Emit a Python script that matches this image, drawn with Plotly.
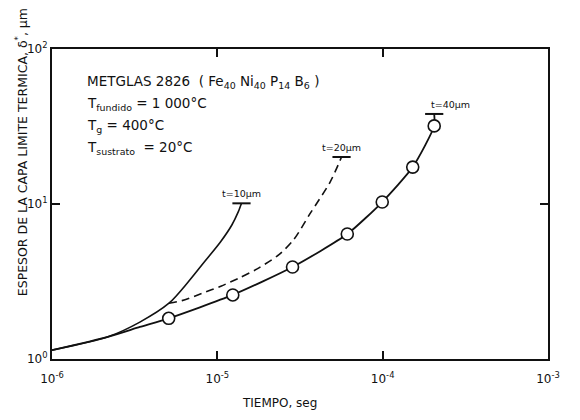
import math
import plotly.graph_objects as go

# --- data (log-log) ---
t10_x = [1e-6, 2.18e-6, 3.4e-6, 5.10e-6, 6.68e-6, 8.36e-6, 1.047e-5, 1.224e-5, 1.34e-5, 1.40e-5]
t10_y = [1.14, 1.39, 1.73, 2.29, 3.15, 4.24, 5.71, 7.32, 8.92, 10.1]

t20_x = [5.10e-6, 6.11e-6, 8.07e-6, 1.05e-5, 1.37e-5, 1.73e-5, 2.35e-5, 2.9e-5, 3.67e-5, 4.80e-5, 5.64e-5]
t20_y = [2.29, 2.38, 2.65, 2.95, 3.35, 3.80, 4.70, 5.9, 8.8, 13.8, 20.1]

t40_x = [1e-6, 2.18e-6, 3.4e-6, 5.08e-6, 1.24e-5, 2.85e-5, 6.11e-5, 9.94e-5, 1.52e-4, 2.05e-4, 2.05e-4]
t40_y = [1.14, 1.39, 1.61, 1.83, 2.59, 3.92, 6.40, 10.3, 17.3, 31.9, 38.1]

pts_x = [5.08e-6, 1.24e-5, 2.85e-5, 6.11e-5, 9.94e-5, 1.52e-4, 2.05e-4]
pts_y = [1.83, 2.59, 3.92, 6.40, 10.3, 17.3, 31.9]

end_labels = ["t=10µm", "t=20µm", "t=40µm"]
x_tickvals = [1e-6, 1e-5, 1e-4, 1e-3]
x_ticktext = ["10<sup>-6</sup>", "10<sup>-5</sup>", "10<sup>-4</sup>", "10<sup>-3</sup>"]
y_tickvals = [1, 10, 100]
y_ticktext = ["10<sup>0</sup>", "10<sup>1</sup>", "10<sup>2</sup>"]

FONT = "DejaVu Sans"
BLACK = "#111111"

fig = go.Figure()

fig.add_trace(go.Scatter(x=t10_x, y=t10_y, mode="lines",
                         line=dict(color=BLACK, width=1.6, shape="spline", smoothing=0.8),
                         showlegend=False, hoverinfo="skip"))
fig.add_trace(go.Scatter(x=t20_x, y=t20_y, mode="lines",
                         line=dict(color=BLACK, width=1.6, dash="8px,5px", shape="spline", smoothing=0.8),
                         showlegend=False, hoverinfo="skip"))
fig.add_trace(go.Scatter(x=t40_x, y=t40_y, mode="lines",
                         line=dict(color=BLACK, width=1.8, shape="spline", smoothing=0.6),
                         showlegend=False, hoverinfo="skip"))
fig.add_trace(go.Scatter(x=pts_x, y=pts_y, mode="markers",
                         marker=dict(symbol="circle", size=12, color="white",
                                     line=dict(color=BLACK, width=1.6)),
                         showlegend=False, hoverinfo="skip"))

# end caps (short horizontal bars) at the last point of each curve
ends_x = [t10_x[-1], t20_x[-1], t40_x[-1]]
ends_y = [t10_y[-1], t20_y[-1], t40_y[-1]]
fig.add_trace(go.Scatter(x=ends_x, y=ends_y, mode="markers",
                         marker=dict(symbol="line-ew-open", size=13, color=BLACK,
                                     line=dict(color=BLACK, width=2)),
                         showlegend=False, hoverinfo="skip"))

xshifts = [0, 0, 16]
for ex, ey, lab, xs in zip(ends_x, ends_y, end_labels, xshifts):
    fig.add_annotation(x=math.log10(ex), y=math.log10(ey), xref="x", yref="y",
                       text=lab, showarrow=False, xanchor="center", yanchor="bottom",
                       xshift=xs, yshift=2,
                       font=dict(family=FONT, size=9.5, color=BLACK))

info_lines = [
    "METGLAS 2826  ( Fe<sub>40</sub> Ni<sub>40</sub> P<sub>14</sub> B<sub>6</sub> )",
    "T<sub>fundido</sub> = 1 000°C",
    "T<sub>g</sub> = 400°C",
    "T<sub>sustrato</sub>  = 20°C",
]
info_y = [0.895, 0.822, 0.752, 0.682]
for txt, yy in zip(info_lines, info_y):
    fig.add_annotation(x=0.066, y=yy, xref="paper", yref="paper", text=txt,
                       showarrow=False, xanchor="left", yanchor="middle",
                       font=dict(family=FONT, size=13.5, color=BLACK))

fig.add_annotation(x=-0.062, y=0.668, xref="paper", yref="paper",
                   text="ESPESOR DE LA CAPA LIMITE TERMICA, δ<sup>*</sup>, µm",
                   textangle=-90, showarrow=False, xanchor="center", yanchor="middle",
                   font=dict(family=FONT, size=12.5, color=BLACK))
fig.add_annotation(x=0.459, y=0.0, xref="paper", yref="paper",
                   text="TIEMPO, seg", showarrow=False, xanchor="center", yanchor="bottom",
                   yshift=-53,
                   font=dict(family=FONT, size=12, color=BLACK))

axis_common = dict(showgrid=False, zeroline=False, showline=True, linecolor=BLACK,
                   linewidth=2, mirror="ticks", ticks="inside", ticklen=8,
                   tickwidth=2, tickcolor=BLACK,
                   tickfont=dict(family=FONT, size=12, color=BLACK))

fig.update_xaxes(type="log", range=[-6, -3], tickvals=x_tickvals, ticktext=x_ticktext,
                 ticklabelstandoff=8, **axis_common)
fig.update_yaxes(type="log", range=[0, 2], tickvals=y_tickvals, ticktext=y_ticktext,
                 ticklabelstandoff=0, **axis_common)

# page has an 8px body margin, so the figure is at most 564 px wide on screen;
# plot area spans about x 52..559, y 49..359 on screen
fig.update_layout(width=564, height=404, margin=dict(l=44, r=13, t=41, b=53),
                  paper_bgcolor="white", plot_bgcolor="white",
                  font=dict(family=FONT, color=BLACK))

fig.write_html("out.html")
